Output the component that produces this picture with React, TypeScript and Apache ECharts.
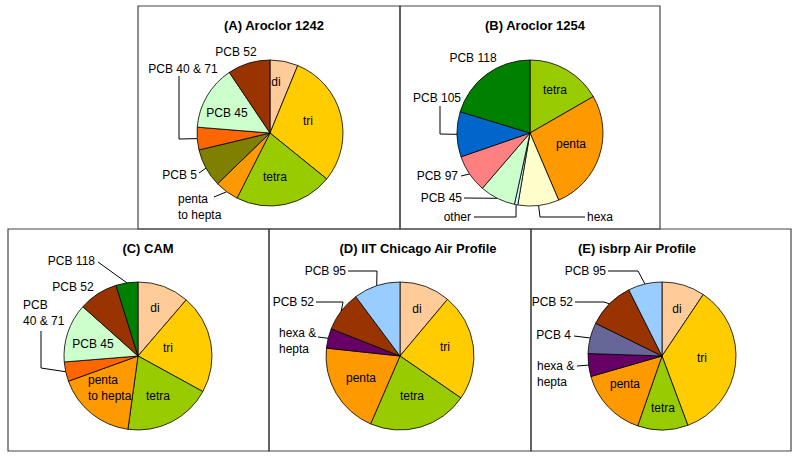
import React, { useEffect, useRef } from 'react';
import * as echarts from 'echarts';

// ---- data ----
const titles = ['(A) Aroclor 1242', '(B) Aroclor 1254', '(C) CAM', '(D) IIT Chicago Air Profile', '(E) isbrp Air Profile'];

const aLabels = ['di', 'tri', 'tetra', 'penta\nto hepta', 'PCB 5', 'PCB 40 & 71', 'PCB 45', 'PCB 52'];
const aValues = [6.2, 29.6, 21.6, 5.3, 8.5, 5.0, 14.3, 9.4];
const aColors = ['#FFCC99', '#FFCC00', '#99CC00', '#FF9900', '#808000', '#FF6600', '#CCFFCC', '#993300'];

const bLabels = ['tetra', 'penta', 'hexa', 'other', 'PCB 45', 'PCB 97', 'PCB 105', 'PCB 118'];
const bValues = [16.7, 26.9, 9.1, 0.75, 7.9, 8.4, 10.0, 20.3];
const bColors = ['#99CC00', '#FF9900', '#FFFFCC', '#CCFFFF', '#CCFFCC', '#FF8080', '#0066CC', '#008000'];

const cLabels = ['di', 'tri', 'tetra', 'penta\nto hepta', 'PCB\n40 & 71', 'PCB 45', 'PCB 52', 'PCB 118'];
const cValues = [11.3, 21.7, 19.2, 17.3, 4.25, 12.9, 8.6, 4.8];
const cColors = ['#FFCC99', '#FFCC00', '#99CC00', '#FF9900', '#FF6600', '#CCFFCC', '#993300', '#008000'];

const dLabels = ['di', 'tri', 'tetra', 'penta', 'hexa &\nhepta', 'PCB 52', 'PCB 95'];
const dValues = [11.1, 23.5, 21.9, 20.2, 4.3, 8.8, 10.2];
const dColors = ['#FFCC99', '#FFCC00', '#99CC00', '#FF9900', '#660066', '#993300', '#99CCFF'];

const eLabels = ['di', 'tri', 'tetra', 'penta', 'hexa &\nhepta', 'PCB 4', 'PCB 52', 'PCB 95'];
const eValues = [9.4, 34.9, 11.0, 15.2, 5.0, 6.75, 10.3, 7.4];
const eColors = ['#FFCC99', '#FFCC00', '#99CC00', '#FF9900', '#660066', '#666699', '#993300', '#99CCFF'];

// ---- layout ----
const FONT = '"Liberation Sans", Arial, sans-serif';

type Spot = { x: number; y: number; align?: 'left' | 'center' | 'right'; inside?: boolean; leader?: number[][] };

const spots: Spot[][] = [
  [
    { x: 276, y: 82, inside: true },
    { x: 308, y: 121, inside: true },
    { x: 275, y: 177, inside: true },
    { x: 178, y: 207, align: 'left', leader: [[214, 197]] },
    { x: 197, y: 175, align: 'right', leader: [[199, 173]] },
    { x: 183, y: 69, leader: [[179, 139], [179, 76]] },
    { x: 227, y: 113, inside: true },
    { x: 236, y: 52 },
  ],
  [
    { x: 555, y: 90, inside: true },
    { x: 571, y: 144, inside: true },
    { x: 587, y: 217, align: 'left', leader: [[540, 217], [585, 217]] },
    { x: 471, y: 217, align: 'right', leader: [[516, 217], [474, 217]] },
    { x: 462, y: 198, align: 'right', leader: [[464, 198]] },
    { x: 458, y: 176, align: 'right', leader: [[461, 176]] },
    { x: 437, y: 98, leader: [[440, 134], [440, 106]] },
    { x: 473, y: 58 },
  ],
  [
    { x: 155, y: 308, inside: true },
    { x: 168, y: 348, inside: true },
    { x: 158, y: 396, inside: true },
    { x: 88, y: 388, align: 'left', inside: true },
    { x: 23, y: 313, align: 'left', leader: [[41, 368], [41, 331]] },
    { x: 93, y: 344, inside: true },
    { x: 73, y: 287 },
    { x: 95, y: 261, align: 'right', leader: [[98, 262]] },
  ],
  [
    { x: 417, y: 309, inside: true },
    { x: 445, y: 347, inside: true },
    { x: 412, y: 396, inside: true },
    { x: 361, y: 378, inside: true },
    { x: 279, y: 341, align: 'left', leader: [[318, 337]] },
    { x: 314, y: 302, align: 'right', leader: [[343, 302], [316, 302]] },
    { x: 346, y: 271, align: 'right', leader: [[377, 271], [348, 271]] },
  ],
  [
    { x: 677, y: 309, inside: true },
    { x: 702, y: 358, inside: true },
    { x: 663, y: 408, inside: true },
    { x: 625, y: 384, inside: true },
    { x: 537, y: 374, align: 'left', leader: [[577, 366]] },
    { x: 571, y: 335, align: 'right', leader: [[574, 336]] },
    { x: 573, y: 302, align: 'right', leader: [[604, 302], [575, 302]] },
    { x: 606, y: 271, align: 'right', leader: [[638, 271], [608, 271]] },
  ],
];

const panels = [
  { labels: aLabels, values: aValues, colors: aColors, center: [270, 133], r: 73, box: [138, 6, 262, 223], title: [274, 25] },
  { labels: bLabels, values: bValues, colors: bColors, center: [530, 133], r: 73, box: [400, 6, 260, 223], title: [535, 25] },
  { labels: cLabels, values: cValues, colors: cColors, center: [138, 356], r: 74, box: [8, 229, 261, 222], title: [148, 248] },
  { labels: dLabels, values: dValues, colors: dColors, center: [400, 356], r: 74, box: [269, 229, 262, 222], title: [418, 248] },
  { labels: eLabels, values: eValues, colors: eColors, center: [662, 356], r: 74, box: [531, 229, 260, 222], title: [637, 248] },
];

export default function App() {
  const ref = useRef<HTMLDivElement>(null);
  useEffect(() => {
    const chart = echarts.init(ref.current!, undefined, { renderer: 'svg' });
    const series = panels.map((p, si) => ({
      type: 'pie',
      center: p.center,
      radius: p.r,
      startAngle: 90,
      clockwise: true,
      avoidLabelOverlap: false,
      silent: true,
      itemStyle: { borderColor: '#000', borderWidth: 0.8 },
      label: { color: '#000', fontSize: 12, fontFamily: FONT, lineHeight: 16, formatter: '{b}' },
      labelLine: { show: true, length: 5, length2: 5, lineStyle: { color: '#000', width: 1 } },
      data: p.labels.map((name, i) => {
        const s = spots[si][i];
        return {
          name,
          value: p.values[i],
          itemStyle: { color: p.colors[i] },
          label: { position: s.inside ? 'inside' : 'outside' },
          labelLine: { show: !s.inside && !!s.leader },
        };
      }),
      labelLayout: (params: any) => {
        const s = spots[si][params.dataIndex];
        const out: any = { x: s.x, y: s.y, align: s.align || 'center', verticalAlign: 'middle' };
        if (s.leader && params.labelLinePoints) {
          out.labelLinePoints = [params.labelLinePoints[0], ...s.leader];
        }
        return out;
      },
    }));
    const graphic: any[] = [];
    panels.forEach((p, i) => {
      graphic.push({
        type: 'rect',
        shape: { x: p.box[0], y: p.box[1], width: p.box[2], height: p.box[3] },
        style: { fill: 'none', stroke: '#444', lineWidth: 1.2 },
        z: 0,
      });
      graphic.push({
        type: 'text',
        x: p.title[0],
        y: p.title[1],
        style: {
          text: titles[i],
          font: 'bold 13px ' + FONT,
          fill: '#000',
          textAlign: 'center',
          textVerticalAlign: 'middle',
        },
      });
    });
    chart.setOption({
      animation: false,
      backgroundColor: '#fff',
      graphic,
      series,
    } as any);
    return () => chart.dispose();
  }, []);
  return <div ref={ref} style={{ position: 'absolute', left: 0, top: 0, width: 800, height: 458 }} />;
}
